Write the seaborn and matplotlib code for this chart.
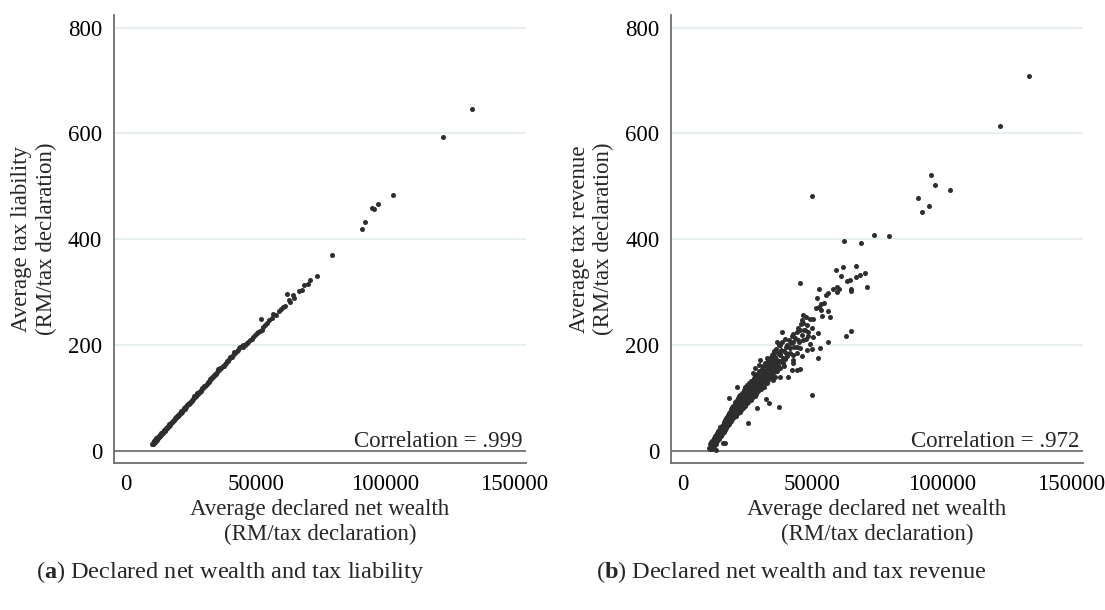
import numpy as np
import pandas as pd
import matplotlib
matplotlib.use("Agg")
import matplotlib.pyplot as plt
import matplotlib.transforms as mtransforms
import seaborn as sns

# ---------------- data (declared net wealth in thousand RM) ----------------
# Panel (a): declared net wealth vs tax liability
wealth_a_k = [
    10.10, 10.20, 10.30, 10.35, 10.45, 10.55, 10.60, 10.70, 10.80, 10.85, 10.95, 11.05, 11.10, 11.20, 11.30, 11.40, 11.45, 11.55, 11.65, 11.75, 11.85, 11.95,
    12.05, 12.15, 12.25, 12.35, 12.45, 12.60, 12.70, 12.85, 12.95, 13.10, 13.20, 13.35, 13.50, 13.60, 13.75, 13.90, 14.05, 14.20, 14.35, 14.50, 14.65, 14.80, 14.95,
    15.15, 15.30, 15.50, 15.65, 15.80, 16.00, 16.15, 16.35, 16.50, 16.70, 16.90, 17.05, 17.25, 17.45, 17.60, 17.80, 18.00, 18.20, 18.40, 18.60, 18.80, 19.00,
    19.25, 19.45, 19.65, 19.90, 20.10, 20.35, 20.55, 20.80, 21.00, 21.25, 21.50, 21.75, 22.00, 22.30, 22.55, 22.80, 23.10, 23.35, 23.60, 23.90, 24.15, 24.40, 24.70, 24.95,
    25.30, 25.60, 25.90, 26.20, 26.50, 26.80, 27.10, 27.40, 27.70, 28.00, 28.35, 28.70, 29.00, 29.35, 29.70,
    30.05, 30.40, 30.75, 31.10, 31.45, 31.80, 32.20, 32.55, 32.90, 33.30, 33.65, 34.00, 34.40, 34.80,
    35.20, 35.60, 36.00, 36.40, 36.80, 37.20, 37.60, 38.00, 38.45, 38.90, 39.35, 39.80,
    40.25, 40.70, 41.20, 41.65, 42.10, 42.60, 43.10, 43.55, 44.00, 44.60, 45.10,
    45.25, 45.90, 46.20, 46.56, 47.20, 47.84, 48.50, 49.11, 49.70, 50.42, 51.00, 51.80, 52.09, 52.36, 53.00, 53.60, 54.29, 55.30, 56.22, 56.84, 57.88, 59.16, 59.70, 60.70, 61.36,
    62.13, 63.03, 63.30, 64.57, 64.84, 66.80, 67.80, 68.70, 70.10, 71.00, 73.60, 79.40, 91.00, 92.27, 94.86, 95.87, 97.30, 103.21, 122.53, 133.50,
]
liability_a = [
    13.2, 12.3, 15.3, 13.5, 15.4, 14.0, 17.4, 15.7, 17.4, 15.4, 17.7, 17.2, 19.8, 18.5, 20.4, 18.5, 20.7, 20.1, 23.1, 20.8, 22.5, 21.2,
    24.3, 23.5, 26.1, 23.8, 25.7, 25.5, 28.3, 27.4, 29.1, 27.5, 30.1, 30.0, 33.0, 30.7, 33.0, 32.7, 35.4, 33.7, 36.2, 36.4, 38.9, 37.3, 39.7,
    39.7, 42.2, 41.0, 43.3, 43.3, 46.6, 44.3, 47.2, 46.7, 49.6, 48.2, 50.7, 53.1, 51.7, 53.8, 54.0, 56.8, 55.5, 58.4, 58.6, 62.0, 59.7,
    62.8, 62.8, 65.5, 65.1, 67.2, 70.0, 68.4, 71.4, 71.4, 74.5, 73.0, 76.7, 77.1, 81.1, 79.4, 82.0, 82.1, 85.6, 85.6, 89.1, 88.2, 90.9, 90.7, 94.2,
    94.6, 98.1, 97.6, 102.5, 100.6, 103.9, 104.6, 108.3, 106.9, 110.3, 111.1, 114.8, 113.8, 117.9, 118.8,
    122.5, 121.9, 125.0, 125.9, 129.6, 129.4, 135.4, 134.1, 137.1, 137.3, 141.8, 141.8, 145.4, 145.5,
    149.2, 153.9, 152.3, 156.5, 157.1, 160.4, 160.5, 164.5, 165.8, 170.3, 170.4, 173.9,
    177.8, 177.6, 181.9, 186.5, 185.4, 189.3, 190.5, 194.0, 195.2, 197.5, 199.0,
    196.6, 199.0, 201.5, 203.0, 206.0, 209.0, 212.0, 215.5, 218.0, 222.0, 224.5, 226.5, 249.5, 228.0, 234.4, 237.0, 240.8, 247.0, 250.3, 258.4, 257.0, 264.7, 267.3, 272.0, 273.5,
    296.8, 284.9, 281.7, 293.7, 288.0, 302.5, 304.0, 313.0, 314.6, 322.7, 330.0, 370.0, 418.5, 431.8, 458.8, 457.0, 466.4, 483.4, 593.6, 646.0,
]

# Panel (b): declared net wealth vs tax revenue
wealth_b_k = [
    10.3, 10.5, 10.6, 10.8, 10.9, 11.0, 11.1, 11.2, 11.3, 11.4, 11.5, 11.6, 11.7, 11.8, 11.9, 12.0, 12.1, 12.2, 12.3, 12.4, 12.5,
    12.6, 12.8, 12.9, 13.0, 13.1, 13.2, 13.3, 13.5, 13.6, 13.7, 13.8, 14.0, 14.1, 14.2, 14.3, 14.5, 14.6, 14.7, 14.9, 15.0,
    15.15, 15.25, 15.20, 15.35, 15.45, 15.55, 15.65, 15.60, 15.75, 15.85, 15.95, 16.05, 16.00, 16.15, 16.25, 16.35, 16.45, 16.40, 16.55, 16.65, 16.75, 16.85, 16.80, 16.95, 17.05,
    17.15, 17.25, 17.20, 17.35, 17.45, 17.55, 17.65, 17.60, 17.75, 17.85, 17.95, 18.05, 18.00, 18.15, 18.25, 18.35, 18.45, 18.40, 18.55, 18.65, 18.75, 18.85, 18.80, 18.95, 19.05,
    19.15, 19.25, 19.20, 19.35, 19.45, 19.55, 19.65, 19.60, 19.75, 19.85, 19.95, 20.05, 20.00, 20.15, 20.25, 20.35, 20.45, 20.40, 20.55, 20.65, 20.75, 20.85, 20.80, 20.95, 21.05,
    21.15, 21.25, 21.20, 21.35, 21.45, 21.55, 21.65, 21.60, 21.75, 21.85,
    21.95, 22.05, 22.00, 22.25, 22.35, 22.30, 22.55, 22.65, 22.85, 22.95, 22.90, 23.15, 23.25, 23.20, 23.45, 23.55, 23.75, 23.85, 23.80, 24.05, 24.15, 24.10, 24.35, 24.45, 24.65, 24.75, 24.70,
    24.95, 25.05, 25.25, 25.35, 25.30, 25.55, 25.65, 25.85, 25.95, 25.90, 26.15, 26.25, 26.45, 26.55, 26.50, 26.75, 26.85, 27.05, 27.15, 27.10, 27.35, 27.45,
    27.65, 27.75, 27.70, 27.95, 28.05, 28.35, 28.45, 28.40, 28.75, 28.85, 29.15, 29.25, 29.20, 29.55, 29.65, 29.95, 30.05, 30.00,
    30.35, 30.45, 30.40, 30.75, 30.85, 31.15, 31.25, 31.20, 31.55, 31.65, 31.95, 32.05, 32.00, 32.35, 32.45, 32.75, 32.85, 32.80, 33.15, 33.25,
    33.55, 33.65, 33.60, 33.95, 34.05, 34.35, 34.45, 34.40, 34.75, 34.85, 35.15, 35.25, 35.55, 35.65, 35.60, 35.95, 36.05, 36.35, 36.45,
    36.75, 36.85, 37.15, 37.25, 37.55, 37.65, 37.95, 38.05, 38.45, 38.55, 38.95, 39.05, 39.45, 39.55, 39.95, 40.05,
    41.0, 41.5, 42.0, 42.5, 43.0, 43.5, 44.0, 44.5, 45.0, 45.5, 46.0, 47.0, 47.5, 48.5, 49.0,
    12.74, 15.70, 16.41, 17.80, 20.78, 25.30, 28.60, 32.30, 33.50, 37.19, 49.90, 27.77, 27.34, 29.39,
    36.30, 37.58, 40.16, 41.44, 44.03, 45.30, 47.89, 45.96, 42.71, 40.16, 37.58, 34.99, 32.44, 29.85, 34.99, 38.85, 42.71, 42.10, 44.03, 45.30, 40.78, 37.58, 34.99, 32.44,
    46.58, 47.62, 45.96, 49.16, 50.44, 46.34, 48.12, 49.82, 47.23, 45.30, 44.03, 42.71, 42.10, 48.51, 50.44, 46.58, 44.65, 42.71, 38.47,
    45.30, 59.32, 61.91, 67.04, 70.40, 68.47, 67.04, 61.14, 63.34, 64.73, 71.18, 65.00, 65.00, 59.71, 60.36, 59.71, 58.16, 56.23, 55.34, 52.75,
    54.69, 53.30, 52.75, 51.75, 51.37, 56.12, 56.77, 53.68, 53.30, 65.00, 63.18, 52.37, 56.12, 53.14, 52.14, 49.94,
    73.76, 79.56, 62.29, 68.86, 49.94, 90.99, 92.30, 95.01, 95.89, 97.44, 103.35, 122.66, 133.62,
]
revenue_b = [
    6, 12, 4, 9, 16, 7, 13, 3, 18, 10, 15, 6, 21, 12, 17, 24, 14, 9, 20, 27, 16,
    22, 13, 29, 20, 26, 33, 18, 30, 24, 37, 27, 34, 22, 40, 30, 36, 45, 28, 39, 33,
    32, 46, 39, 42, 35, 48, 38, 44, 41, 53, 36, 47, 55, 44, 51, 58, 40, 48, 53, 46, 61, 49, 43, 56, 52,
    47, 63, 58, 54, 67, 49, 60, 57, 66, 55, 71, 51, 61, 58, 65, 74, 62, 54, 68, 59, 78, 64, 57, 70, 62,
    60, 75, 82, 67, 72, 85, 63, 76, 70, 80, 65, 88, 73, 78, 69, 92, 75, 66, 82, 71, 68, 86, 77, 95, 74,
    80, 71, 88, 99, 77, 84, 73, 92, 80, 103,
    86, 74, 95, 81, 90, 106, 77, 98, 88, 83, 110, 95, 80, 102, 90, 115, 86, 99, 108, 94, 120, 84, 103, 91, 112, 98, 124,
    90, 106, 101, 117, 93, 110, 128, 98, 106, 121, 114, 95, 105, 132, 119, 111, 100, 125, 116, 106, 137, 112,
    120, 103, 130, 115, 141, 108, 124, 133, 145, 118, 128, 112, 138, 150, 122, 133, 117, 142,
    126, 148, 138, 155, 130, 142, 121, 161, 135, 150, 166, 128, 145, 140, 158, 152, 170, 133, 145, 162,
    175, 138, 157, 150, 168, 181, 143, 160, 155, 172, 188, 148, 165, 178, 140, 193, 158, 172, 150,
    185, 162, 199, 170, 157, 182, 190, 170, 205, 176, 160, 188, 212, 173, 185, 197,
    210, 185, 203, 172, 197, 214, 185, 232, 205, 240, 218, 229, 212, 225, 202,
    1.3, 14, 14, 99, 121, 51.8, 80, 97, 90, 83.2, 105.3, 155.7, 146, 162,
    206, 199.8, 199.8, 193.6, 196.6, 193.6, 190.4, 179, 181, 179, 181, 182.8, 174.7, 171.5, 168.2, 166.4, 165.2, 152.6, 152.6, 153.9, 139.9, 139.9, 133.6, 127.4,
    256.5, 252.2, 247, 248.4, 249.5, 240.8, 237.6, 231.4, 228.2, 228.2, 225, 220.6, 216.8, 216.8, 214.4, 209.3, 209.3, 206, 224.4,
    316.4, 341.6, 347.8, 349, 336.5, 332, 327.8, 330.8, 321.4, 322.7, 308.9, 305, 301.3, 308.9, 306.3, 300, 305, 297.5, 293.8, 305.7,
    279.8, 277.3, 272.2, 288, 269.8, 264.7, 253.3, 254.6, 266, 226.8, 216.8, 221.9, 206, 194.7, 175.8, 192.8,
    407.7, 406.5, 396.4, 393.2, 482, 478.3, 451.8, 462.6, 521.7, 502.3, 492.2, 613.2, 708.3,
]

x_ticks = [0, 50000, 100000, 150000]
x_tick_labels = ["0", "50000", "100000", "150000"]
y_ticks = [0, 200, 400, 600, 800]
y_grid = [200, 400, 600, 800]
corr_a = "Correlation = .999"
corr_b = "Correlation = .972"
xlabel = "Average declared net wealth\n(RM/tax declaration)"
ylabel_a = "Average tax liability\n(RM/tax declaration)"
ylabel_b = "Average tax revenue\n(RM/tax declaration)"
caption_a = r"($\mathbf{a}$) Declared net wealth and tax liability"
caption_b = r"($\mathbf{b}$) Declared net wealth and tax revenue"

df_a = pd.DataFrame({"wealth": np.array(wealth_a_k) * 1000, "tax": liability_a})
df_b = pd.DataFrame({"wealth": np.array(wealth_b_k) * 1000, "tax": revenue_b})

# ---------------- style ----------------
sns.set_style("white")
plt.rcParams["font.family"] = ["Liberation Serif", "DejaVu Serif"]
plt.rcParams["mathtext.fontset"] = "custom"
plt.rcParams["mathtext.rm"] = "Liberation Serif"
plt.rcParams["mathtext.bf"] = "Liberation Serif:bold"

FS = 16.5
AXC = "#6e6e6e"
DOT = "#2e2e2e"

fig = plt.figure(figsize=(11.05, 6.10), dpi=100)
ax_a = fig.add_axes([0.1032, 0.2415, 0.3729, 0.7339])
ax_b = fig.add_axes([0.6076, 0.2415, 0.3722, 0.7339])


def draw(ax, df, xlim, ylabel, corr):
    for v in y_grid:
        ax.axhline(v, color="#e6eef0", lw=1.3, zorder=0)
    ax.axhline(0, color="#7c7c7c", lw=1.4, zorder=1)
    sns.scatterplot(data=df, x="wealth", y="tax", ax=ax, s=13, color=DOT,
                    linewidth=0, zorder=3, legend=False)
    ax.set_xlim(*xlim)
    ax.set_ylim(-22.7, 824)
    ax.set_xticks(x_ticks)
    ax.set_xticklabels(x_tick_labels)
    ax.set_yticks(y_ticks)
    for s in ["top", "right"]:
        ax.spines[s].set_visible(False)
    for s in ["left", "bottom"]:
        ax.spines[s].set_color(AXC)
        ax.spines[s].set_linewidth(1.3)
    ax.tick_params(axis="both", direction="out", length=5, width=1.2,
                   color=AXC, labelsize=FS, labelcolor="black")
    ax.tick_params(axis="y", pad=3.5)
    ax.tick_params(axis="x", pad=3)
    ax.set_xlabel(xlabel, fontsize=FS, linespacing=1.25, labelpad=3)
    ax.set_ylabel(ylabel, fontsize=FS, linespacing=1.2, labelpad=8)
    trans = mtransforms.blended_transform_factory(ax.transAxes, ax.transData)
    ax.text(0.992, 7.5, corr, transform=trans, ha="right", va="baseline",
            fontsize=FS)


draw(ax_a, df_a, (-4714, 154479), ylabel_a, corr_a)
draw(ax_b, df_b, (-4364, 154480), ylabel_b, corr_b)

fig.text(0.208, 0.0623, caption_a, ha="center", va="center", fontsize=17.5)
fig.text(0.716, 0.0623, caption_b, ha="center", va="center", fontsize=17.5)

fig.savefig("out.png", dpi=100, facecolor="white")
